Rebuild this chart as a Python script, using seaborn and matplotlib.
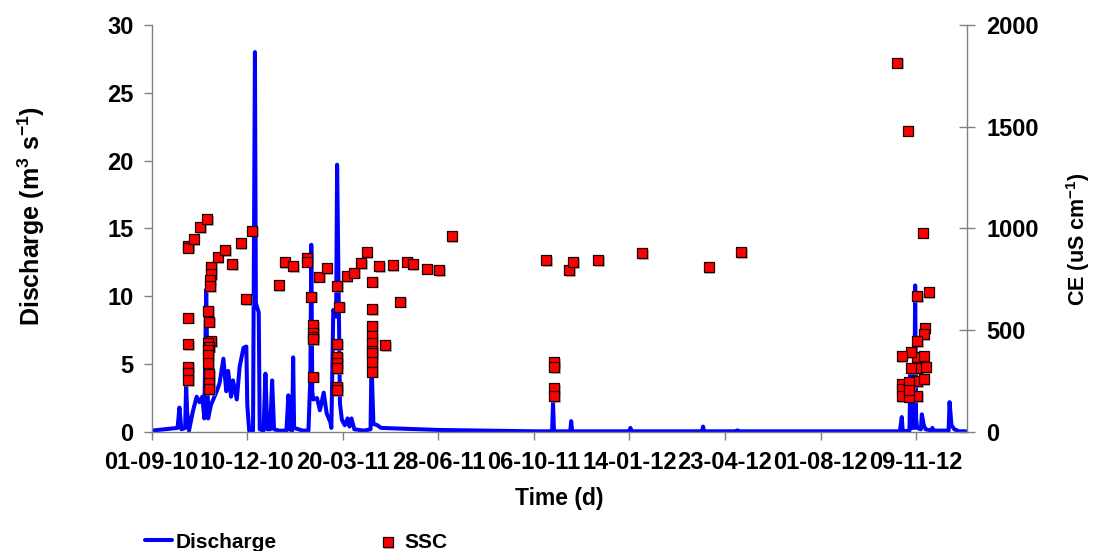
import pandas as pd
import matplotlib
matplotlib.use("Agg")
import matplotlib.pyplot as plt
import matplotlib.dates as mdates
import matplotlib.patheffects as pe
import seaborn as sns

# Day 0 of the monitoring record
record_start = pd.Timestamp("2010-09-01")

# Discharge (m3 s-1) at days since record start
q_day = [0, 27, 29, 31, 35, 36, 37, 39, 43, 47, 50, 53, 55, 57, 59, 62, 68, 71,
         75, 78, 80, 83, 85, 89, 92, 96, 99, 100, 102, 106, 108, 109, 112, 113,
         117, 119, 121, 124, 126, 128, 133, 141, 143, 144, 147, 148, 149, 158,
         164, 166, 167, 168, 169, 173, 176, 180, 183, 187, 188, 190, 193, 194,
         197, 199, 202, 205, 207, 209, 212, 222, 229, 230, 232, 236, 240, 260,
         300, 400, 419, 420, 421, 438, 439, 440, 500, 501, 502, 576, 577, 578,
         612, 613, 614, 783, 785, 786, 793, 794, 795, 798, 799, 800, 801, 805,
         806, 808, 810, 816, 817, 818, 834, 835, 837, 840, 845, 852]
q_val = [0.10, 0.30, 1.80, 0.20, 0.30, 3.60, 1.50, 0.10, 1.50, 2.60, 2.20, 2.60,
         1.00, 10.50, 1.00, 2.00, 3.00, 3.60, 5.40, 3.00, 4.50, 2.60, 3.80, 2.40,
         4.80, 6.20, 6.30, 2.00, 0.10, 0.10, 28.00, 9.50, 8.80, 0.20, 0.10, 4.30,
         0.20, 0.20, 3.80, 0.20, 0.10, 0.10, 2.70, 0.20, 0.10, 5.50, 0.30, 0.10,
         0.10, 4.00, 13.80, 3.00, 2.40, 2.50, 1.60, 2.90, 1.40, 0.70, 0.30, 9.00,
         8.50, 19.70, 2.10, 0.90, 0.50, 1.00, 0.40, 1.00, 0.20, 0.10, 0.20, 5.20,
         0.60, 0.50, 0.30, 0.25, 0.15, 0.05, 0.05, 2.15, 0.05, 0.05, 0.80, 0.05,
         0.05, 0.30, 0.05, 0.05, 0.40, 0.05, 0.05, 0.12, 0.05, 0.05, 1.10, 0.05,
         0.10, 4.50, 0.30, 0.30, 10.80, 1.00, 0.30, 0.20, 1.30, 0.50, 0.20, 0.10,
         0.30, 0.10, 0.10, 2.20, 0.50, 0.20, 0.05, 0.05]

# SSC samples (right axis) at days since record start
ssc_day = [38, 38, 38, 38, 38, 38, 38, 44, 51, 58,
           62, 62, 62, 61, 61, 59, 60, 59, 60, 60, 60, 60, 59, 59, 59,
           69, 77, 84, 93, 99, 105, 133, 139, 148, 162, 162,
           167, 169, 169, 169, 169, 169, 175, 183,
           194, 194, 194, 194, 194, 194, 194, 196, 204, 212, 219, 225,
           231, 231, 231, 231, 231, 231, 231, 231, 231,
           238, 244, 252, 260, 267, 273, 288, 301, 314,
           413, 421, 421, 421, 421, 437, 441, 467, 513, 583, 617,
           780, 791, 807, 813, 801, 809, 808, 801, 801, 801, 801, 801,
           795, 795, 785, 785, 785, 785, 808, 810, 808, 793, 793, 793]
ssc_val = [915, 905, 562, 431, 321, 291, 256, 947, 1006, 1045,
           809, 775, 447, 747, 717, 596, 542, 436, 419, 285, 239, 210, 403, 378, 341,
           858, 894, 826, 927, 654, 989, 721, 834, 816, 857, 837,
           665, 524, 488, 468, 455, 272, 763, 806,
           717, 432, 370, 341, 313, 223, 206, 616, 766, 783, 829, 884,
           739, 603, 522, 472, 436, 400, 387, 345, 296,
           816, 427, 821, 640, 837, 826, 803, 796, 963,
           845, 344, 319, 215, 177, 796, 835, 845, 880, 811, 884,
           1815, 1481, 979, 687, 667, 510, 482, 447, 370, 313, 251, 177,
           392, 313, 373, 236, 210, 177, 375, 318, 260, 244, 173, 205]

tick_step_days = 100
n_ticks = 9
record_length_days = 853

q_df = pd.DataFrame({"Date": record_start + pd.to_timedelta(q_day, unit="D"),
                     "Discharge": q_val})
ssc_df = pd.DataFrame({"Date": record_start + pd.to_timedelta(ssc_day, unit="D"),
                       "SSC": ssc_val})

sns.set_style("ticks")
plt.rcParams["font.family"] = ["Liberation Sans", "DejaVu Sans"]
plt.rcParams["font.weight"] = "bold"
plt.rcParams["axes.labelweight"] = "bold"
plt.rcParams["text.color"] = "black"
plt.rcParams["axes.labelcolor"] = "black"
plt.rcParams["xtick.labelcolor"] = "black"
plt.rcParams["ytick.labelcolor"] = "black"
plt.rcParams["mathtext.fontset"] = "custom"
plt.rcParams["mathtext.rm"] = "Liberation Sans:bold"
plt.rcParams["mathtext.it"] = "Liberation Sans:bold"
plt.rcParams["mathtext.bf"] = "Liberation Sans:bold"

axis_grey = "#808080"

fig = plt.figure(figsize=(10.94, 5.51), dpi=100)
ax = fig.add_axes([0.1387, 0.216, 0.745, 0.7387])

sns.lineplot(data=q_df, x="Date", y="Discharge", ax=ax, color="#0000FF",
             linewidth=2.9, estimator=None, legend=False)

ax2 = ax.twinx()
sns.scatterplot(data=ssc_df, x="Date", y="SSC", ax=ax2, marker="s", s=52,
                color="#FF0000", edgecolor="#1a0000", linewidth=0.9, legend=False)
ax2.collections[-1].set_path_effects(
    [pe.SimplePatchShadow(offset=(1.2, -1.2), shadow_rgbFace="#888888", alpha=0.6),
     pe.Normal()])

# Axis limits and ticks
ax.set_xlim(record_start, record_start + pd.Timedelta(days=record_length_days))
ax.set_xticks([record_start + pd.Timedelta(days=tick_step_days * k) for k in range(n_ticks)])
ax.xaxis.set_major_formatter(mdates.DateFormatter("%d-%m-%y"))
ax.set_ylim(0, 30)
ax.set_yticks(range(0, 31, 5))
ax2.set_ylim(0, 2000)
ax2.set_yticks(range(0, 2001, 500))

ax.tick_params(axis="x", direction="out", length=6, width=1, color=axis_grey,
               labelsize=17, pad=8)
ax.tick_params(axis="y", direction="out", length=6, width=1, color=axis_grey,
               labelsize=17, pad=7)
ax2.tick_params(axis="y", direction="inout", length=12, width=1, color=axis_grey,
                labelsize=17, pad=8)

for a in (ax, ax2):
    a.spines["top"].set_visible(False)
    for s in a.spines.values():
        s.set_color(axis_grey)
        s.set_linewidth(1)
ax.spines["right"].set_visible(False)
ax2.spines["left"].set_visible(False)
ax2.spines["bottom"].set_visible(False)

ax.set_xlabel("Time (d)", fontsize=16.5)
ax.xaxis.set_label_coords(0.5, -0.135)
ax.set_ylabel(r"Discharge (m$^{3}$ s$^{-1}$)", fontsize=18)
ax.yaxis.set_label_coords(-0.128, 0.53)
ax2.set_ylabel(r"CE (uS cm$^{-1}$)", fontsize=15.5)
ax2.yaxis.set_label_coords(1.119, 0.474)

handles = [ax.lines[0], ax2.collections[-1]]
fig.legend(handles, ["Discharge", "SSC"], loc="center left",
           bbox_to_anchor=(145 / 1094, 9 / 551), ncol=2, frameon=False,
           fontsize=15, handlelength=1.3, handletextpad=0.15, columnspacing=4.7,
           borderpad=0, borderaxespad=0)

fig.savefig("out.png", dpi=100, facecolor="white")
